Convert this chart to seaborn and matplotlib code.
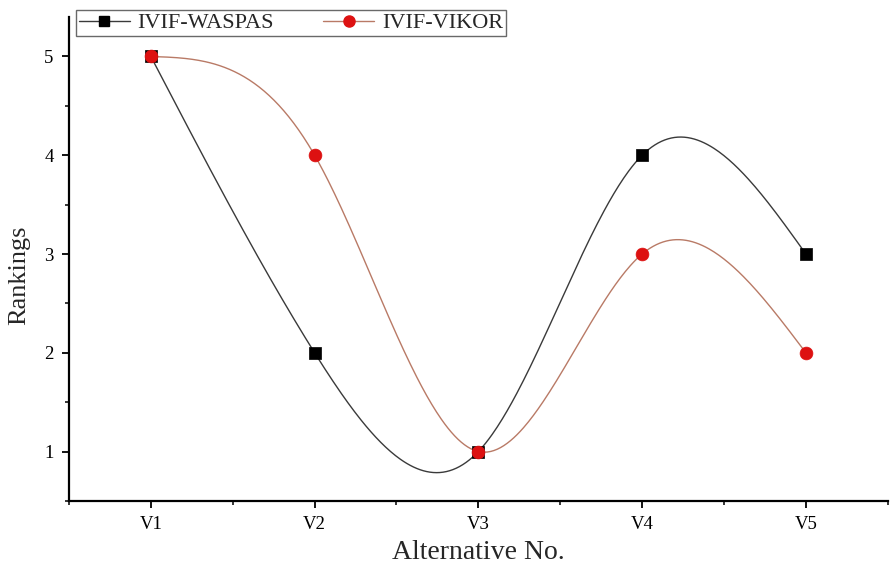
import numpy as np
import pandas as pd
import matplotlib
matplotlib.use("Agg")
import matplotlib.pyplot as plt
import seaborn as sns
from matplotlib.ticker import MultipleLocator
from matplotlib.lines import Line2D

# Data
alternatives = ["V1", "V2", "V3", "V4", "V5"]
waspas = [5, 2, 1, 4, 3]
vikor = [5, 4, 1, 3, 2]


def natural_spline(x, y, n=400):
    # natural cubic spline through the points (Origin-style smooth line)
    x = np.asarray(x, float)
    y = np.asarray(y, float)
    h = np.diff(x)
    k = len(x)
    A = np.zeros((k, k))
    b = np.zeros(k)
    A[0, 0] = A[-1, -1] = 1
    for i in range(1, k - 1):
        A[i, i - 1] = h[i - 1]
        A[i, i] = 2 * (h[i - 1] + h[i])
        A[i, i + 1] = h[i]
        b[i] = 6 * ((y[i + 1] - y[i]) / h[i] - (y[i] - y[i - 1]) / h[i - 1])
    M = np.linalg.solve(A, b)
    xs = np.linspace(x[0], x[-1], n)
    idx = np.clip(np.searchsorted(x, xs) - 1, 0, k - 2)
    x0, x1 = x[idx], x[idx + 1]
    hh = x1 - x0
    t0 = x1 - xs
    t1 = xs - x0
    ys = (M[idx] * t0 ** 3 + M[idx + 1] * t1 ** 3) / (6 * hh) \
        + (y[idx] / hh - M[idx] * hh / 6) * t0 \
        + (y[idx + 1] / hh - M[idx + 1] * hh / 6) * t1
    return xs, ys


pos = np.arange(1, len(alternatives) + 1)
df = pd.DataFrame({"pos": pos, "IVIF-WASPAS": waspas, "IVIF-VIKOR": vikor})

sns.set_style("ticks")
plt.rcParams["font.family"] = ["Liberation Serif", "DejaVu Serif"]

fig = plt.figure(figsize=(8.9, 5.66), dpi=100)
ax = fig.add_axes([0.0775, 0.115, 0.92, 0.855])

black_line = "#3a3a3a"
brown_line = "#b97a66"
red_mark = "#dd1111"

xs, ys = natural_spline(df["pos"], df["IVIF-WASPAS"])
sns.lineplot(x=xs, y=ys, ax=ax, color=black_line, lw=1.0)
xs, ys = natural_spline(df["pos"], df["IVIF-VIKOR"])
sns.lineplot(x=xs, y=ys, ax=ax, color=brown_line, lw=1.0)

sns.scatterplot(data=df, x="pos", y="IVIF-WASPAS", ax=ax, marker="s", s=70,
                color="black", edgecolor="black", linewidth=0.5, zorder=3)
sns.scatterplot(data=df, x="pos", y="IVIF-VIKOR", ax=ax, marker="o", s=85,
                color=red_mark, edgecolor=red_mark, linewidth=0.5, zorder=4)

ax.set_xlim(0.5, 5.5)
ax.set_ylim(0.5, 5.4)
ax.set_xticks(pos)
ax.set_xticklabels(alternatives)
ax.set_yticks([1, 2, 3, 4, 5])
ax.xaxis.set_minor_locator(MultipleLocator(0.5))
ax.yaxis.set_minor_locator(MultipleLocator(0.5))
ax.tick_params(which="major", direction="out", length=5, width=1.3,
               labelsize=13.5, pad=6, colors="black")
ax.tick_params(which="minor", direction="out", length=3, width=1.3)
ax.tick_params(axis="y", pad=6)

for side in ["top", "right"]:
    ax.spines[side].set_visible(False)
for side in ["left", "bottom"]:
    ax.spines[side].set_linewidth(1.6)
    ax.spines[side].set_color("black")

ax.set_xlabel("Alternative No.", fontsize=20, va="baseline")
ax.xaxis.set_label_coords(0.5, -0.12)
ax.set_ylabel("Rankings", fontsize=19, va="center")
ax.yaxis.set_label_coords(-0.061, 0.467)

handles = [
    Line2D([], [], color=black_line, lw=1.0, marker="s", markersize=7,
           markerfacecolor="black", markeredgecolor="black"),
    Line2D([], [], color=brown_line, lw=1.0, marker="o", markersize=8,
           markerfacecolor=red_mark, markeredgecolor=red_mark),
]
leg = fig.legend(handles, ["IVIF-WASPAS", "IVIF-VIKOR"], ncol=2,
                 loc="upper left", bbox_to_anchor=(0.0855, 0.982),
                 fontsize=16, frameon=True, fancybox=False,
                 handlelength=2.3, columnspacing=2.2, borderpad=0.12,
                 handletextpad=0.35, borderaxespad=0)
leg.get_frame().set_edgecolor("#444444")
leg.get_frame().set_linewidth(1.0)

fig.savefig("out.png", dpi=100)
